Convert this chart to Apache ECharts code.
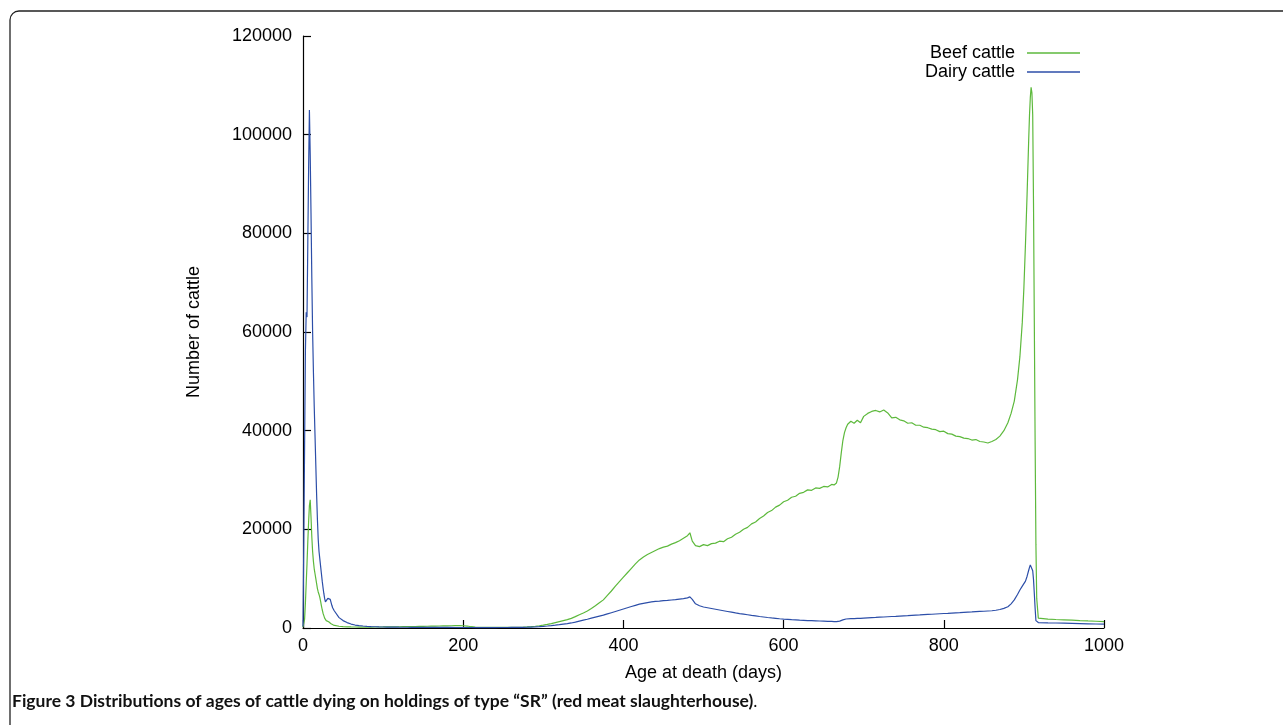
<!DOCTYPE html>
<html>
<head>
<meta charset="utf-8">
<script src="https://cdn.jsdelivr.net/npm/echarts@6/dist/echarts.min.js"></script>
<style>
html,body{margin:0;padding:0;background:#fff;}
#chart{width:1283px;height:725px;}
</style>
</head>
<body>
<div id="chart"></div>
<script>
// Age at death (days)
const days = [
  0,1,2,3,4,5,6,7,8,9,10,11,12,13,14,15,16,17,18,19,20,21,22,23,24,25,26,27,28,29,30,31,32,33,34,35,36,37,38,39,40,
  45,50,55,60,65,70,75,80,85,90,95,100,
  105,110,115,120,125,130,135,140,145,150,155,160,165,170,175,180,185,190,195,200,
  205,210,215,220,225,230,235,240,245,250,255,260,265,270,275,280,285,290,295,300,
  305,310,315,320,325,330,335,340,345,350,355,360,365,370,375,380,385,390,395,400,
  405,410,415,420,425,430,435,440,445,450,455,460,465,470,475,480,
  483,486,490,
  495,500,505,510,515,520,525,530,535,540,545,550,555,560,565,570,575,580,585,590,
  595,600,605,610,615,620,625,630,635,640,645,650,655,660,
  663,666,668,670,672,674,676,678,680,684,688,692,696,
  700,705,710,715,720,725,730,735,740,745,750,755,760,765,770,775,780,785,790,795,
  800,805,810,815,820,825,830,835,840,845,850,855,860,865,870,875,880,
  884,888,892,895,898,900,902,904,906,907,908,909,910,911,912,913,914,915,916,918,920,
  930,940,950,960,970,980,990,1000
];

// Number of cattle – beef
const beefCattle = [
  200,600,1800,5000,9000,13000,17500,21500,24800,26000,22500,18500,15500,13500,12000,11000,10000,9000,8000,7300,6800,6200,5400,4500,3700,3000,2500,2000,1700,1500,1300,1200,1250,1100,950,850,750,650,600,550,500,
  350,280,240,210,200,190,185,190,195,200,205,210,
  220,230,240,250,265,280,290,305,320,335,350,370,390,410,425,440,455,465,470,460,
  400,260,170,130,120,115,110,110,110,115,120,125,130,150,175,210,270,350,460,580,
  720,900,1100,1300,1500,1700,1950,2300,2700,3050,3450,3950,4500,5100,5700,6600,7500,8500,9400,10300,
  11200,12100,13000,13800,14400,14900,15300,15700,16100,16400,16600,17000,17300,17700,18200,18700,
  19300,17600,16700,
  16500,16900,16700,17100,17200,17600,17500,18100,18400,19000,19400,20000,20400,21100,21500,22200,22700,23400,23800,24500,
  24900,25600,25900,26500,26700,27300,27500,28000,27900,28400,28300,28700,28600,29100,
  29000,29400,30600,32700,35500,38000,39600,40600,41300,41900,41500,42100,41600,
  42900,43500,43900,44100,43800,44200,43600,42600,42700,42200,42000,41500,41600,41100,41100,40700,40600,40300,40200,39800,
  39900,39400,39300,38900,38800,38500,38400,38100,38200,37800,37700,37500,37800,38200,38900,40000,41600,
  43500,46000,50300,55000,62000,69000,78000,88000,99000,104000,107500,109600,108500,104000,86000,62000,38000,17000,6000,2000,1900,
  1800,1720,1650,1580,1500,1430,1370,1300
];

// Number of cattle – dairy
const dairyCattle = [
  300,18000,37000,56000,64000,63000,78000,93000,105000,96000,84000,71000,60000,52000,45000,39000,33000,27000,22000,18000,15500,14000,12500,11000,9500,8200,7000,6000,5300,5000,5300,6000,6400,6300,5800,5200,4600,4100,3800,3500,3200,
  2100,1500,1100,800,600,480,400,330,280,250,220,200,
  190,180,170,160,155,150,145,140,135,130,125,120,118,115,112,110,108,105,103,100,
  100,98,96,95,95,95,95,96,98,100,105,110,115,125,140,160,190,230,280,340,
  410,490,580,680,790,900,1020,1180,1380,1580,1780,2000,2200,2400,2600,2850,3100,3350,3600,3850,
  4100,4350,4600,4850,5000,5150,5280,5380,5450,5530,5600,5680,5750,5850,5950,6100,
  6300,5800,4900,
  4500,4250,4100,3950,3800,3650,3500,3350,3200,3050,2920,2800,2680,2560,2450,2330,2230,2130,2040,1960,
  1880,1810,1750,1690,1640,1590,1550,1510,1480,1450,1420,1390,1360,1330,
  1310,1300,1320,1400,1520,1640,1740,1820,1870,1900,1920,1940,1960,
  2000,2050,2100,2140,2190,2230,2280,2330,2370,2420,2470,2510,2560,2610,2650,2700,2750,2790,2840,2890,
  2940,2980,3030,3080,3120,3170,3220,3260,3310,3360,3400,3450,3500,3600,3750,3980,4300,
  4900,5700,6800,7700,8500,8900,9500,10500,11700,12300,12800,13000,12700,11600,9800,7000,4000,1500,1150,1100,1080,
  1050,1010,970,930,890,850,810,780
];

const seriesNames = ['Beef cattle', 'Dairy cattle'];
const xTicks = [0, 200, 400, 600, 800, 1000];
const yTicks = [0, 20000, 40000, 60000, 80000, 100000, 120000];
const captionBold = 'Figure 3 Distributions of ages of cattle dying on holdings of type “SR” (red meat slaughterhouse)';

const beefColor = '#5db93c';
const dairyColor = '#2c4ea8';
const FONT = 'Liberation Sans, Arial, sans-serif';

const chart = echarts.init(document.getElementById('chart'), null, {renderer: 'canvas'});

const legendCommon = {
  orient: 'vertical',
  align: 'right',
  right: 203,
  padding: 0,
  icon: 'rect',
  itemWidth: 53,
  itemHeight: 1.3,
  selectedMode: false,
  textStyle: {fontFamily: FONT, fontSize: 18, color: '#000', padding: [0, 7, 0, 0]}
};

chart.setOption({
  animation: false,
  backgroundColor: '#fff',
  title: {
    left: 12,
    top: 692,
    padding: 0,
    text: '{b|' + captionBold + '}{n|.}',
    textStyle: {
      rich: {
        b: {fontFamily: 'Lato, sans-serif', fontWeight: 'bold', fontSize: 17.5, color: '#111'},
        n: {fontFamily: 'Lato, sans-serif', fontWeight: 'normal', fontSize: 17.5, color: '#111'}
      }
    }
  },
  legend: [
    Object.assign({}, legendCommon, {top: 44, data: [seriesNames[0]]}),
    Object.assign({}, legendCommon, {top: 63, data: [seriesNames[1]]})
  ],
  grid: {left: 303, right: 179, top: 36, bottom: 97, containLabel: false},
  xAxis: {
    type: 'value',
    min: 0, max: 1000, interval: 200,
    name: 'Age at death (days)',
    nameLocation: 'middle',
    nameGap: 36,
    nameTextStyle: {fontFamily: FONT, fontSize: 18, color: '#000'},
    axisLine: {show: true, onZero: false, lineStyle: {color: '#000', width: 1.2}},
    axisTick: {show: true, inside: true, length: 8, lineStyle: {color: '#000', width: 1.2}},
    axisLabel: {
      fontFamily: FONT, fontSize: 18, color: '#000', margin: 9,
      customValues: xTicks,
      formatter: v => String(v)
    },
    splitLine: {show: false}
  },
  yAxis: {
    type: 'value',
    min: 0, max: 120000, interval: 20000,
    name: 'Number of cattle',
    nameLocation: 'middle',
    nameGap: 100,
    nameTextStyle: {fontFamily: FONT, fontSize: 18, color: '#000'},
    axisLine: {show: true, onZero: false, lineStyle: {color: '#000', width: 1.2}},
    axisTick: {show: true, inside: true, length: 8, lineStyle: {color: '#000', width: 1.2}},
    axisLabel: {
      fontFamily: FONT, fontSize: 18, color: '#000', margin: 11,
      formatter: v => String(v)
    },
    splitLine: {show: false}
  },
  series: [
    {
      name: seriesNames[0],
      type: 'line',
      symbol: 'none',
      data: days.map((d, i) => [d, beefCattle[i]]),
      lineStyle: {color: beefColor, width: 1.2},
      itemStyle: {color: beefColor}
    },
    {
      name: seriesNames[1],
      type: 'line',
      symbol: 'none',
      data: days.map((d, i) => [d, dairyCattle[i]]),
      lineStyle: {color: dairyColor, width: 1.2},
      itemStyle: {color: dairyColor}
    }
  ],
  graphic: [
    {
      type: 'rect',
      silent: true,
      z: 100,
      shape: {x: 10, y: 11, width: 1300, height: 760, r: 9},
      style: {fill: 'none', stroke: '#222', lineWidth: 1.3}
    }
  ]
});
</script>
</body>
</html>
